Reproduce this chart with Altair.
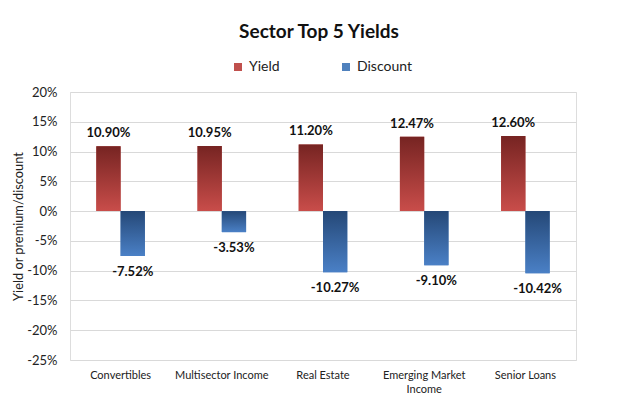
import altair as alt
import pandas as pd

categories = ["Convertibles", "Multisector Income", "Real Estate",
              "Emerging Market Income", "Senior Loans"]
yield_values = [10.90, 10.95, 11.20, 12.47, 12.60]
discount_values = [-7.52, -3.53, -10.27, -9.10, -10.42]
series_names = ["Yield", "Discount"]
series_colors = ["#C0504D", "#4F81BD"]
y_ticks = [-25, -20, -15, -10, -5, 0, 5, 10, 15, 20]

rows = []
for c, yv, dv in zip(categories, yield_values, discount_values):
    rows.append({"category": c, "series": "Yield", "value": yv})
    rows.append({"category": c, "series": "Discount", "value": dv})
df = pd.DataFrame(rows)

FONT = "Lato"

red_grad = {"gradient": "linear", "x1": 0, "x2": 0, "y1": 0, "y2": 1,
            "stops": [{"offset": 0, "color": "#762422"},
                      {"offset": 1, "color": "#C94D4A"}]}
blue_grad = {"gradient": "linear", "x1": 0, "x2": 0, "y1": 0, "y2": 1,
             "stops": [{"offset": 0, "color": "#254877"},
                       {"offset": 1, "color": "#4A80C6"}]}

x_enc = alt.X(
    "category:N", sort=categories, title=None,
    scale=alt.Scale(paddingInner=0.52, paddingOuter=0.26),
    axis=alt.Axis(labelAngle=0, ticks=False, domain=False, labelFont=FONT,
                  labelFontSize=11, labelColor="#222222", labelPadding=9,
                  labelLineHeight=14,
                  labelExpr="datum.label == 'Emerging Market Income' ? ['Emerging Market', 'Income'] : datum.label"),
)
xo_enc = alt.XOffset("series:N", sort=series_names,
                     scale=alt.Scale(paddingInner=0, paddingOuter=0))
y_enc = alt.Y(
    "value:Q", title="Yield or premium/discount",
    scale=alt.Scale(domain=[-25, 20], nice=False),
    axis=alt.Axis(values=y_ticks, labelExpr="datum.value + '%'", ticks=False,
                  domain=False, grid=True, gridColor="#D9D9D9", gridWidth=1,
                  labelFont=FONT, labelFontSize=13, labelColor="#222222",
                  labelPadding=13, titleFont=FONT, titleFontSize=12.8,
                  titleFontWeight="normal", titleColor="#222222",
                  titleAngle=-90, titleX=-52, titleY=134, titleAlign="center",
                  titleBaseline="middle"),
)

base = alt.Chart(df).encode(x=x_enc, xOffset=xo_enc, y=y_enc)

legend_bars = base.mark_bar().encode(
    color=alt.Color("series:N", sort=series_names,
                    scale=alt.Scale(domain=series_names, range=series_colors),
                    legend=alt.Legend(title=None, orient="none", legendX=161,
                                      legendY=-32, direction="horizontal",
                                      symbolType="square", symbolSize=64,
                                      symbolStrokeWidth=0,
                                      labelFont=FONT, labelFontSize=14,
                                      labelColor="#222222", labelOffset=4,
                                      columnPadding=59))
)

grad_bars = base.mark_bar().encode(
    color=alt.condition(alt.datum.series == "Yield",
                        alt.value(red_grad), alt.value(blue_grad))
)

labels = base.transform_calculate(
    label="(datum.value < 0 ? '-' : '') + format(abs(datum.value), '.2f') + '%'"
)
yield_text = labels.transform_filter(alt.datum.series == "Yield").mark_text(
    font=FONT, fontSize=13, fontWeight="bold", color="#111111", dy=-13
).encode(text="label:N")
disc_text = labels.transform_filter(alt.datum.series == "Discount").mark_text(
    font=FONT, fontSize=13, fontWeight="bold", color="#111111", dy=16
).encode(text="label:N")

chart = alt.layer(legend_bars, grad_bars, yield_text, disc_text).properties(
    width=506, height=268,
    autosize=alt.AutoSizeParams(type="none"),
    padding={"left": 62, "top": 84, "right": 56, "bottom": 50},
    title=alt.TitleParams("Sector Top 5 Yields", font=FONT, fontSize=19,
                          fontWeight="bold", color="#111111", anchor="middle",
                          offset=18, dx=-4),
).configure_view(stroke="black", strokeWidth=1.5).configure(background="white")

chart.save("out.html", embed_options={"renderer": "svg", "actions": False})
